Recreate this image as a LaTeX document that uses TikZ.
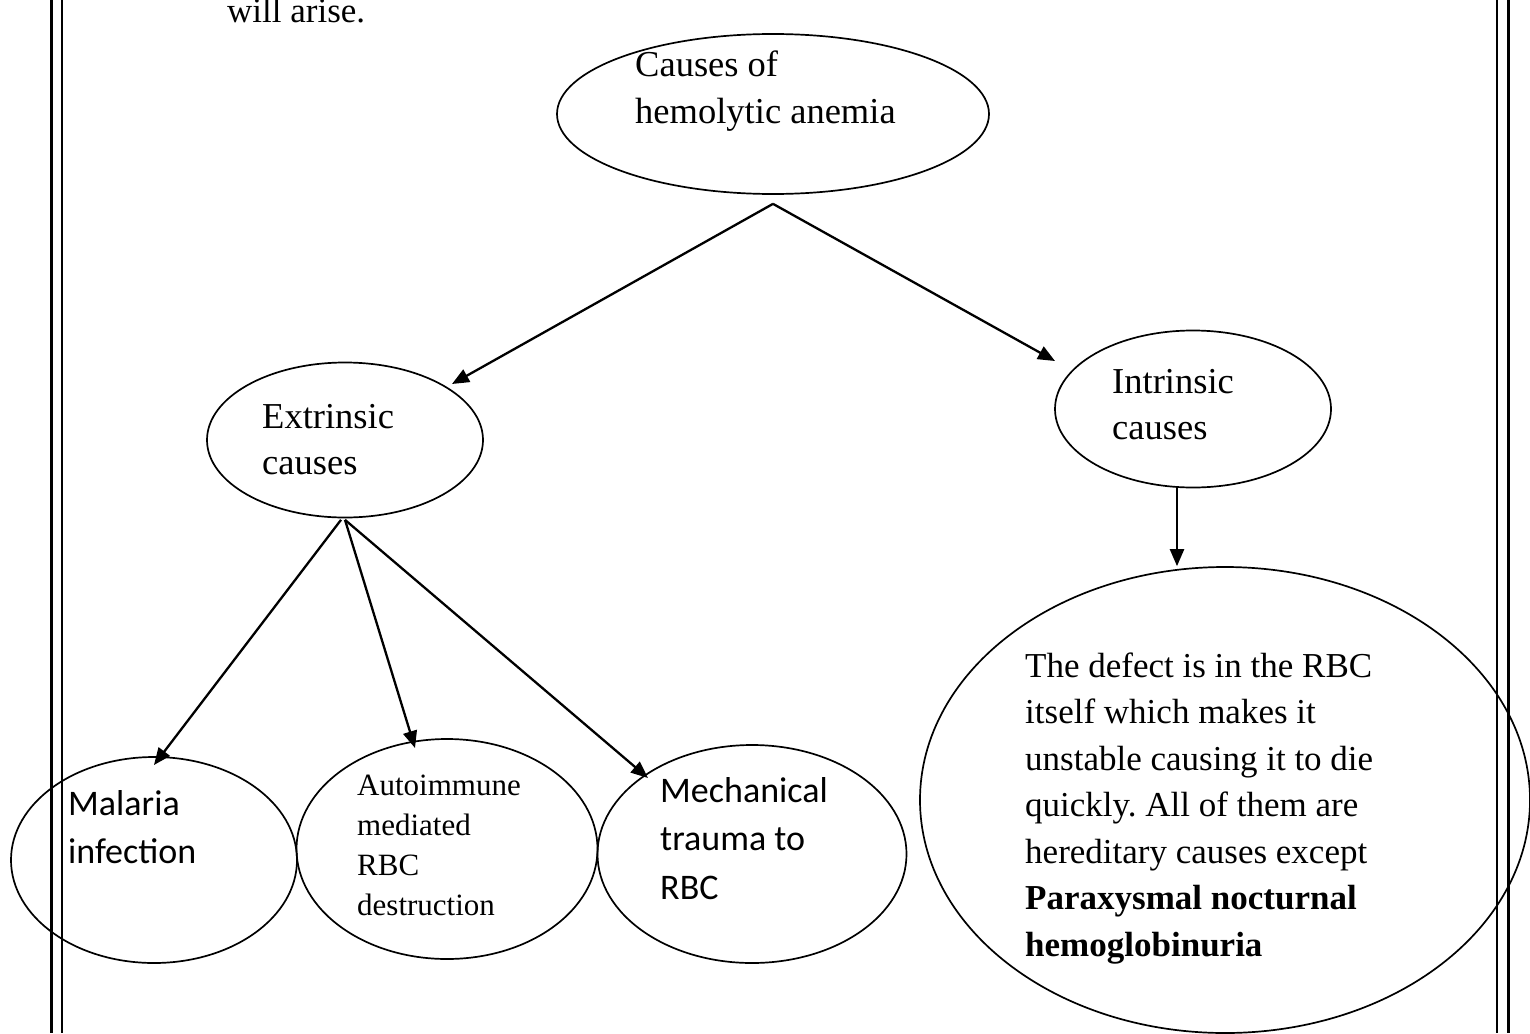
\documentclass[tikz,border=0pt]{standalone}
\usepackage{fontspec}
\setmainfont{Liberation Serif}
\newfontfamily\calibrifont{Carlito}
\usetikzlibrary{shapes.geometric, arrows.meta}
\newcommand{\stack}[1]{\begin{tabular}[t]{@{}l@{}}#1\end{tabular}}
\frenchspacing

\begin{document}
\begin{tikzpicture}[
    x=1pt, y=-1pt,
    bubble/.style={ellipse, draw, line width=1.7pt, inner sep=0pt},
    body/.style={anchor=base west, inner sep=0pt, font=\fontsize{35}{46.5}\selectfont},
    head/.style={anchor=base west, inner sep=0pt, font=\fontsize{36.5}{46.5}\selectfont},
    small/.style={anchor=base west, inner sep=0pt, font=\fontsize{31}{40}\selectfont},
    sans/.style={anchor=base west, inner sep=0pt, font=\calibrifont\fontsize{36}{48.5}\selectfont},
    arrow/.style={-{Triangle[length=17pt, width=14pt]}, line width=2.3pt},
    rule/.style={line width=#1}
]
\useasboundingbox (0,0) rectangle (1530,1033);
% page text and frame
\node[body] (prev) at (227,23) {will arise.};
\draw[rule=3pt] (51.5,0) -- (51.5,1033);
\draw[rule=2pt] (62,0) -- (62,1033);
\draw[rule=2pt] (1497,0) -- (1497,1033);
\draw[rule=3pt] (1508.5,0) -- (1508.5,1033);
% ellipses
\node[bubble, minimum width=432pt, minimum height=160pt] (causes) at (773,114) {};
\node[bubble, minimum width=276pt, minimum height=155pt] (extr) at (345,440) {};
\node[bubble, minimum width=276pt, minimum height=157pt] (intr) at (1193,409) {};
\node[bubble, minimum width=286pt, minimum height=206pt] (malaria) at (154,860) {};
\node[bubble, minimum width=301pt, minimum height=220pt] (auto) at (447,849) {};
\node[bubble, minimum width=309pt, minimum height=218pt] (mech) at (752,854) {};
\node[bubble, minimum width=610pt, minimum height=466pt] (defect) at (1225,800) {};
% texts
\node[head] (causestxt) at (635,77) {\stack{Causes of\\hemolytic anemia}};
\node[head] (extrtxt) at (262,428) {\stack{Extrinsic\\causes}};
\node[head] (intrtxt) at (1112,393) {\stack{Intrinsic\\causes}};
\node[sans] (malariatxt) at (68,815) {\stack{Malaria\\infection}};
\node[small] (autotxt) at (357,795) {\stack{Autoimmune\\mediated\\RBC\\destruction}};
\node[sans] (mechtxt) at (660,802) {\stack{Mechanical\\trauma to\\RBC}};
\node[body] (defecttxt) at (1025,677) {\stack{The defect is in the RBC\\itself which makes it\\unstable causing it to die\\quickly. All of them are\\hereditary causes except\\\textbf{Paraxysmal nocturnal}\\\textbf{hemoglobinuria}}};
% connectors
\coordinate (root) at ([yshift=-9pt]causes.south);
\coordinate (split) at ([yshift=-1.5pt]extr.south);
\coordinate (drop) at ([xshift=-16pt]intr.south);
\draw[arrow] (root) -- ([shift={(107,-56)}]extr.center);
\draw[arrow] (root) -- ([shift={(-138,-48)}]intr.center);
\draw[arrow] (drop) -- (drop |- defect.north);
\draw[arrow] ([xshift=-4pt]split) -- ([yshift=95pt]malaria.center);
\draw[arrow] (split) -- ([shift={(-32,-101)}]auto.center);
\draw[arrow] (split) -- ([shift={(-104,-76)}]mech.center);
\end{tikzpicture}
\end{document}
